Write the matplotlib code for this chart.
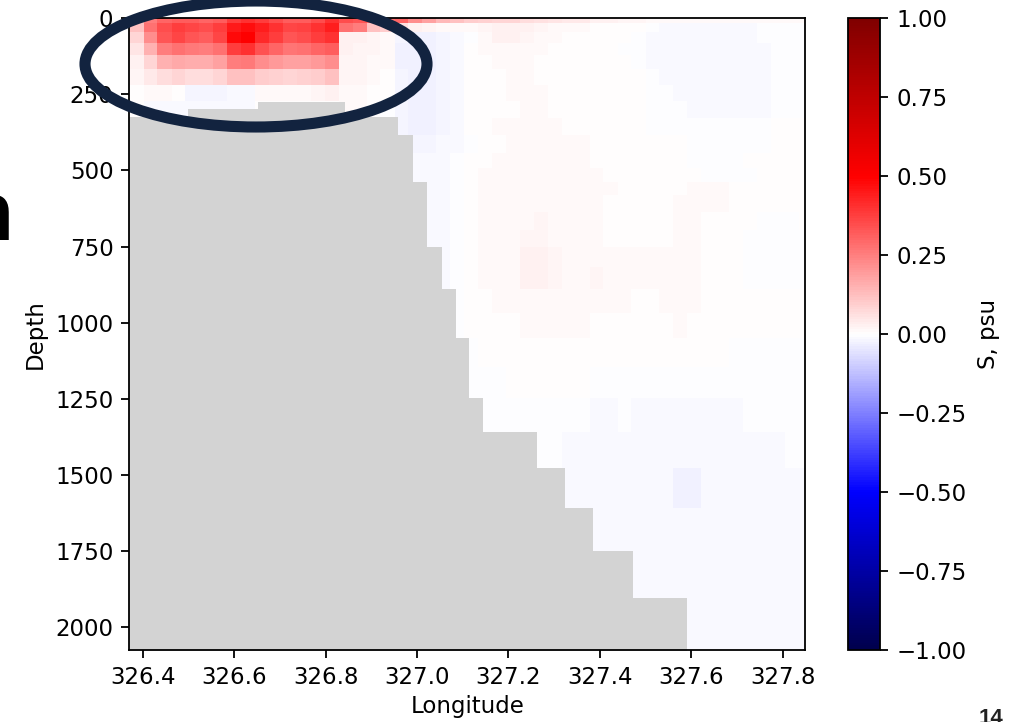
import numpy as np
import matplotlib
matplotlib.use('Agg')
import matplotlib.pyplot as plt
from matplotlib.patches import Ellipse

# grid of the section (cell edges)
lon_edges = [326.371, 326.402, 326.432, 326.463, 326.493, 326.524, 326.554, 326.585,
             326.615, 326.646, 326.676, 326.707, 326.737, 326.768, 326.798, 326.829,
             326.859, 326.890, 326.920, 326.951, 326.981, 327.012, 327.042, 327.073,
             327.103, 327.134, 327.164, 327.195, 327.225, 327.256, 327.286, 327.317,
             327.347, 327.378, 327.408, 327.439, 327.469, 327.500, 327.530, 327.561,
             327.591, 327.622, 327.652, 327.683, 327.713, 327.744, 327.774, 327.805,
             327.835, 327.866]
depth_edges = [0, 15, 45, 80, 120, 165, 220, 272, 328, 383, 443, 492, 538, 580, 636,
               695, 751, 817, 889, 968, 1050, 1145, 1247, 1359, 1477, 1608, 1750, 1904, 2075]

# salinity anomaly in 0.01 psu
# shelf part: first 8 levels, first 19 columns (below that is sea floor)
sal_shelf = [
    [15, 25, 30, 32, 32, 30, 32, 38, 40, 38, 35, 32, 32, 35, 40, 35, 33, 30, 28],
    [12, 28, 35, 38, 36, 35, 38, 45, 47, 44, 40, 36, 37, 40, 44, 28, 25, 12, 10],
    [8, 22, 33, 36, 33, 32, 36, 48, 50, 42, 38, 33, 35, 38, 40, 3, 3, 2, 1],
    [5, 15, 25, 28, 26, 25, 28, 38, 40, 34, 30, 27, 28, 30, 32, 3, 2, 2, 1],
    [3, 8, 15, 17, 16, 16, 18, 25, 26, 22, 20, 18, 18, 20, 22, 2, 2, 1, 1],
    [2, 4, 7, 8, 7, 7, 8, 12, 12, 10, 9, 8, 9, 10, 12, 2, 2, 1, 0.5],
    [0, 1, 1, 0, -2, -2, -2, -1.5, -1, 1, 1, 1, 1, 2, 3, 1.5, 1, 0.5, 0.5],
    [0, -1, -1, -1, -1.5, -1.5, -1.5, -1.5, -1, 0, 0, 0, 0, 0, 0, 1, 1, 0, -0.5],
]
# slope / open ocean part: all 28 levels, last 30 columns
sal_slope = [
    [30, 22, 18, 14, 12, 10, 9, 8, 8, 7, 6, 5, 4, 4, 3, 3, 2, 2, 1, 1, 1, 1, 1, 1, 1, 1, 1, 1, 1, 1],
    [6, 3, 2, 1, 1, 1.5, 2, 2.5, 2.5, 2.5, 2, 1.5, 1, 1, 0.5, 0.5, 0, 0, -0.5, -1, -1, -1, -1, -1, -1, -1, -0.5, -0.5, -0.5, -0.5],
    [-2, -3, -3, -2, -1, -0.5, 1.5, 2.5, 2.5, 2, 1.5, 1, 0.5, 0.5, 0, 0, 0, -0.5, -1, -1, -1, -1, -1, -1, -1, -1, -0.5, -0.5, -0.5, -0.5],
    [-3, -3, -3, -2, -1, 0, 1, 1.5, 1.5, 1, 1, 0.5, 0.5, 0.5, 0, 0, -0.5, -0.5, -1, -1, -1, -1, -1, -1, -1, -1, -1, -0.5, -0.5, -0.5],
    [-3, -3, -3, -2, -1, 0.5, 0.5, 1, 1, 1, 0.5, 0.5, 0.5, 0.5, 0, 0, 0, -0.5, -1, -1, -1, -1, -1, -1, -1, -1, -1, -0.5, -0.5, -0.5],
    [-2, -3, -3, -2, -1, 0.5, 0.5, 0.5, 1, 1, 0.5, 0.5, 0.5, 0.5, 0.5, 0, 0, 0, -0.5, -1, -1, -1, -1, -1, -1, -1, -1, -0.5, -0.5, -0.5],
    [-2, -3, -3, -2, -1, 0.5, 0.5, 0.5, 1, 1, 1, 0.5, 0.5, 0.5, 0.5, 0, 0, 0, -0.5, -0.5, -1, -1, -1, -1, -1, -1, -1, -0.5, -0.5, -0.5],
    [-2, -2.5, -2.5, -2, -1, 0.5, 0.5, 0.5, 0.5, 1, 1, 0.5, 0.5, 0.5, 0.5, 0.5, 0, 0, -0.5, -0.5, -0.5, -1, -1, -1, -1, -1, -1, -0.5, -0.5, -0.5],
    [-2, -2.5, -2.5, -2, -1, 0.5, 0.5, 1, 1, 1, 1, 1, 0.5, 0.5, 0.5, 0.5, 0, 0, -0.5, -0.5, -0.5, -0.5, -0.5, -0.5, -0.5, -0.5, -0.5, 0, 0, 0],
    [0, -2, -2, -1.5, -1, -0.5, 0.5, 0.5, 1, 1, 1.5, 1, 1, 1, 0.5, 0.5, 0.5, 0.5, 0, 0, 0, -0.5, -0.5, -0.5, -0.5, -0.5, -0.5, 0, 0, 0],
    [0, -1.5, -1.5, -1, -0.5, 0.5, 0.5, 1, 1, 1.5, 1, 1, 1, 1, 0.5, 0.5, 0.5, 0, 0, 0, 0, -0.5, -0.5, -0.5, -0.5, 0, 0, 0, 0, 0],
    [0, -1.5, -1.5, -1, -0.5, 0, 1, 1, 1, 1.5, 1.5, 1, 1, 1, 1, 0.5, 0.5, 0.5, 0, 0, 0, 0, -0.5, -0.5, -0.5, -0.5, 0, 0, 0, 0],
    [0, 0, -1.5, -1, -0.5, 0, 1, 1, 1.5, 1.5, 1.5, 1.5, 1, 1, 1, 1, 0.5, 0.5, 0.5, 0, 0, 1.5, 1.5, 1, 0.5, 0, 0, 0, 0, 0],
    [0, 0, -1.5, -1, -0.5, 0, 1, 1, 1.5, 1.5, 1.5, 1.5, 1, 1, 1, 0, 0, 0, 0, 0, 1.5, 1.5, 1.5, 1, 0.5, 0, 0, 0, 0, 0],
    [0, 0, -1, -1, -0.5, 0.5, 1, 1.5, 1.5, 1.5, 2, 1.5, 1.5, 1, 1, 0, 0, 0, 0, 0.5, 1.5, 1.5, 0.5, 0.5, 0, 0, -0.5, -0.5, -0.5, 0],
    [0, 0, -1, -1, -0.5, 0.5, 1, 1.5, 1.5, 2, 2, 1.5, 1.5, 1, 1, 0, 0, 0, 0.5, 0.5, 1.5, 1.5, 0.5, 0, 0, -0.5, -0.5, -0.5, -0.5, -0.5],
    [0, 0, 0, -1, -0.5, 0.5, 1, 1.5, 1.5, 2.5, 2.5, 2, 1.5, 1.5, 1.5, 1, 1, 1, 1, 1, 1.5, 1.5, 0.5, 0, 0, -0.5, -0.5, -0.5, -0.5, -0.5],
    [0, 0, 0, -1, -0.5, 0.5, 1, 1.5, 1.5, 2.5, 2.5, 2, 1.5, 1.5, 2, 1, 1, 1, 1, 1, 1.5, 1.5, 0.5, 0, 0, -0.5, -0.5, -0.5, -0.5, -0.5],
    [0, 0, 0, 0, -0.5, 0, 0.5, 1, 1, 1.5, 1.5, 1.5, 1.5, 1, 1, 1, 1, 0.5, 0.5, 1, 1.5, 1, 0.5, 0, 0, 0, 0, 0, 0, 0],
    [0, 0, 0, 0, -0.5, 0, 0.5, 0.5, 0.5, 1, 1, 1, 1, 1, 0.5, 0.5, 0.5, 0.5, 0.5, 0.5, 1, 0.5, 0, 0, 0, 0, 0, 0, 0, 0],
    [0, 0, 0, 0, 0, -0.5, 0, 0, 0.5, 0.5, 0.5, 0.5, 0.5, 0, 0, 0, 0, 0, 0, 0, 0, 0, 0, 0, -0.5, -0.5, -0.5, -0.5, -0.5, -0.5],
    [0, 0, 0, 0, 0, -0.5, -0.5, -0.5, 0, 0, 0, 0, 0, 0, -0.5, -0.5, -0.5, -0.5, -0.5, -0.5, -0.5, -0.5, -0.5, -0.5, -0.5, -0.5, -0.5, -0.5, -0.5, -0.5],
    [0, 0, 0, 0, 0, 0, -0.5, -0.5, -0.5, -0.5, -0.5, -0.5, -0.5, -0.5, -1, -1, -0.5, -1, -1, -1, -1, -1, -1, -1, -1, -0.5, -0.5, -0.5, -0.5, -0.5],
    [0, 0, 0, 0, 0, 0, 0, 0, 0, 0, -0.5, -0.5, -1, -1, -1, -1, -1, -1, -1, -1.5, -1.5, -1.5, -1, -1, -1, -1, -1, -1, -0.5, -0.5],
    [0, 0, 0, 0, 0, 0, 0, 0, 0, 0, 0, 0, -1, -1, -1, -1.5, -1.5, -1.5, -1.5, -1.5, -2.5, -2.5, -1.5, -1.5, -1, -1, -1, -1, -1, -1],
    [0, 0, 0, 0, 0, 0, 0, 0, 0, 0, 0, 0, 0, 0, -1, -1, -1.5, -1.5, -1.5, -1.5, -1.5, -1, -1, -1, -1, -1, -1, -1, -1, -1],
    [0, 0, 0, 0, 0, 0, 0, 0, 0, 0, 0, 0, 0, 0, 0, 0, 0, -1, -1, -1, -1, -1, -1, -1, -1, -1, -1, -1, -1, -1],
    [0, 0, 0, 0, 0, 0, 0, 0, 0, 0, 0, 0, 0, 0, 0, 0, 0, 0, 0, 0, 0, -1.5, -1.5, -1.5, -1.5, -1, -1, -1, -1, -1],
]

# bottom topography (step edges in longitude, depth of sea floor)
bathy_lon = [326.371, 326.499, 326.652, 326.842, 326.958, 326.991, 327.022, 327.055,
             327.085, 327.114, 327.144, 327.262, 327.324, 327.385, 327.473, 327.591, 327.849]
bathy_depth = [324, 298, 275, 324, 383, 538, 751, 889, 1050, 1247, 1359, 1477,
               1608, 1750, 1904, 2200, 2200]

cb_ticks = [-1.0, -0.75, -0.5, -0.25, 0.0, 0.25, 0.5, 0.75, 1.0]

# put the two pieces together (cells under the sea floor are hidden anyway)
shelf = np.zeros((len(sal_slope), len(sal_shelf[0])))
shelf[:len(sal_shelf)] = sal_shelf
sal = np.hstack([shelf, np.array(sal_slope)]) / 100.0

plt.rcParams['font.size'] = 16.5
plt.rcParams['axes.linewidth'] = 1.3
for a in ('xtick', 'ytick'):
    plt.rcParams[a + '.major.size'] = 5.8
    plt.rcParams[a + '.major.width'] = 1.3
    plt.rcParams[a + '.major.pad'] = 5.8

fig = plt.figure(figsize=(10.18, 7.22), dpi=100)
ax = fig.add_axes([0.1272, 0.0997, 0.6636, 0.8750])
mesh = ax.pcolormesh(lon_edges, depth_edges, sal, cmap='seismic', vmin=-1, vmax=1,
                     shading='flat')
ax.fill_between(bathy_lon, bathy_depth, 2300, step='post', color='lightgray', lw=0)
ax.set_xlim(326.371, 327.849)
ax.set_ylim(2075, 0)
ax.set_xticks([326.4, 326.6, 326.8, 327.0, 327.2, 327.4, 327.6, 327.8])
ax.set_yticks([0, 250, 500, 750, 1000, 1250, 1500, 1750, 2000])
ax.set_xlabel('Longitude', labelpad=4)
ax.set_ylabel('Depth', labelpad=6)

cax = fig.add_axes([0.833, 0.0997, 0.0314, 0.8750])
cb = fig.colorbar(mesh, cax=cax, ticks=cb_ticks)
cb.set_label('S, psu', labelpad=8)
cb.outline.set_linewidth(1.3)

# slide annotations
ell = Ellipse((256 / 1018, 1 - 64 / 722), 342 / 1018, 126 / 722,
              transform=fig.transFigure, fill=False, ec='#12233f', lw=8)
fig.add_artist(ell)
fig.text(13 / 1018, 1 - 240 / 722, 'n', ha='right', va='baseline', fontsize=60,
         fontweight='bold', family='Liberation Sans', color='black')
fig.text(991 / 1018, 1 - 708 / 722, '14', ha='center', va='top', fontsize=16,
         fontweight='bold', family='Liberation Sans', color='#222222')

fig.savefig('out.png', dpi=100)
